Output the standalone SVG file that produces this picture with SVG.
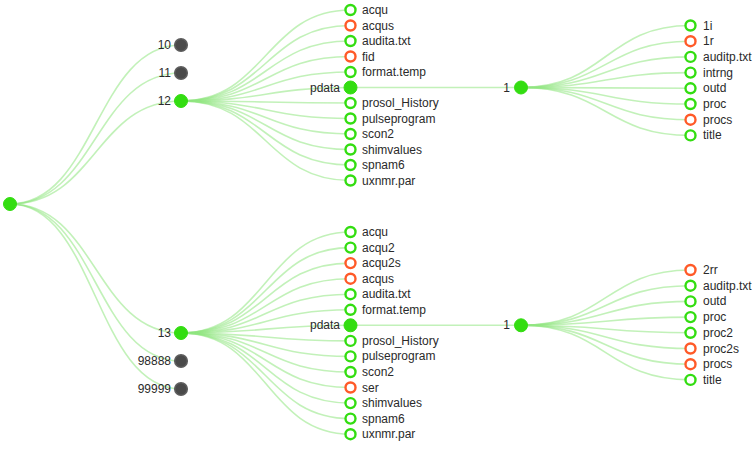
<svg xmlns="http://www.w3.org/2000/svg" width="756" height="464" viewBox="0 0 756 464">
<style>
.link{fill:none;stroke:#8fe57f;stroke-opacity:0.55;stroke-width:1.6}
.exp{fill:#33dd11;stroke:#33dd11;stroke-width:1}
.dark{fill:#4a4a4a;stroke:#5e5e5e;stroke-width:1.5}
.ok{fill:#fff;stroke:#33dd11;stroke-width:2.4}
.bad{fill:#fff;stroke:#ff5a28;stroke-width:2.4}
text{font-family:"Liberation Sans",Arial,sans-serif;font-size:12px;fill:#2a2a2a}
.l{text-anchor:end}
</style>
<rect width="756" height="464" fill="#fff"/>
<g id="links">
<path class="link" d="M10,204C95.5,204 95.5,45 181,45"/>
<path class="link" d="M10,204C95.5,204 95.5,73 181,73"/>
<path class="link" d="M10,204C95.5,204 95.5,101 181,101"/>
<path class="link" d="M10,204C95.5,204 95.5,333 181,333"/>
<path class="link" d="M10,204C95.5,204 95.5,361 181,361"/>
<path class="link" d="M10,204C95.5,204 95.5,389 181,389"/>
<path class="link" d="M181,101C265.75,101 265.75,10 350.5,10"/>
<path class="link" d="M181,101C265.75,101 265.75,25.5 350.5,25.5"/>
<path class="link" d="M181,101C265.75,101 265.75,41 350.5,41"/>
<path class="link" d="M181,101C265.75,101 265.75,56.5 350.5,56.5"/>
<path class="link" d="M181,101C265.75,101 265.75,72 350.5,72"/>
<path class="link" d="M181,101C265.75,101 265.75,87.5 350.5,87.5"/>
<path class="link" d="M181,101C265.75,101 265.75,103 350.5,103"/>
<path class="link" d="M181,101C265.75,101 265.75,118.5 350.5,118.5"/>
<path class="link" d="M181,101C265.75,101 265.75,134 350.5,134"/>
<path class="link" d="M181,101C265.75,101 265.75,149.5 350.5,149.5"/>
<path class="link" d="M181,101C265.75,101 265.75,165 350.5,165"/>
<path class="link" d="M181,101C265.75,101 265.75,180.5 350.5,180.5"/>
<path class="link" d="M350.5,87.5L521,87.5"/>
<path class="link" d="M521,87.5C605.75,87.5 605.75,25.5 690.5,25.5"/>
<path class="link" d="M521,87.5C605.75,87.5 605.75,41.2 690.5,41.2"/>
<path class="link" d="M521,87.5C605.75,87.5 605.75,56.9 690.5,56.9"/>
<path class="link" d="M521,87.5C605.75,87.5 605.75,72.6 690.5,72.6"/>
<path class="link" d="M521,87.5C605.75,87.5 605.75,88.3 690.5,88.3"/>
<path class="link" d="M521,87.5C605.75,87.5 605.75,104 690.5,104"/>
<path class="link" d="M521,87.5C605.75,87.5 605.75,119.7 690.5,119.7"/>
<path class="link" d="M521,87.5C605.75,87.5 605.75,135.4 690.5,135.4"/>
<path class="link" d="M181,333C265.75,333 265.75,232 350.5,232"/>
<path class="link" d="M181,333C265.75,333 265.75,247.6 350.5,247.6"/>
<path class="link" d="M181,333C265.75,333 265.75,263.1 350.5,263.1"/>
<path class="link" d="M181,333C265.75,333 265.75,278.7 350.5,278.7"/>
<path class="link" d="M181,333C265.75,333 265.75,294.2 350.5,294.2"/>
<path class="link" d="M181,333C265.75,333 265.75,309.8 350.5,309.8"/>
<path class="link" d="M181,333C265.75,333 265.75,325.3 350.5,325.3"/>
<path class="link" d="M181,333C265.75,333 265.75,340.9 350.5,340.9"/>
<path class="link" d="M181,333C265.75,333 265.75,356.4 350.5,356.4"/>
<path class="link" d="M181,333C265.75,333 265.75,372 350.5,372"/>
<path class="link" d="M181,333C265.75,333 265.75,387.5 350.5,387.5"/>
<path class="link" d="M181,333C265.75,333 265.75,403.1 350.5,403.1"/>
<path class="link" d="M181,333C265.75,333 265.75,418.6 350.5,418.6"/>
<path class="link" d="M181,333C265.75,333 265.75,434.2 350.5,434.2"/>
<path class="link" d="M350.5,325.3L521,325.3"/>
<path class="link" d="M521,325.3C605.75,325.3 605.75,270 690.5,270"/>
<path class="link" d="M521,325.3C605.75,325.3 605.75,285.7 690.5,285.7"/>
<path class="link" d="M521,325.3C605.75,325.3 605.75,301.4 690.5,301.4"/>
<path class="link" d="M521,325.3C605.75,325.3 605.75,317.1 690.5,317.1"/>
<path class="link" d="M521,325.3C605.75,325.3 605.75,332.8 690.5,332.8"/>
<path class="link" d="M521,325.3C605.75,325.3 605.75,348.5 690.5,348.5"/>
<path class="link" d="M521,325.3C605.75,325.3 605.75,364.2 690.5,364.2"/>
<path class="link" d="M521,325.3C605.75,325.3 605.75,379.9 690.5,379.9"/>
</g>
<g id="root"><circle class="exp" cx="10" cy="204" r="6.5"/></g>
<g id="n10"><circle class="dark" cx="181" cy="45" r="6.3"/><text class="l" x="171" y="49">10</text></g>
<g id="n11"><circle class="dark" cx="181" cy="73" r="6.3"/><text class="l" x="171" y="77">11</text></g>
<g id="n12"><circle class="exp" cx="181" cy="101" r="6.5"/><text class="l" x="171" y="105">12</text></g>
<g id="n13"><circle class="exp" cx="181" cy="333" r="6.5"/><text class="l" x="171" y="337">13</text></g>
<g id="n98888"><circle class="dark" cx="181" cy="361" r="6.3"/><text class="l" x="171" y="365">98888</text></g>
<g id="n99999"><circle class="dark" cx="181" cy="389" r="6.3"/><text class="l" x="171" y="393">99999</text></g>
<g id="a12-acqu"><circle class="ok" cx="350.5" cy="10" r="5"/><text x="362" y="14">acqu</text></g>
<g id="a12-acqus"><circle class="bad" cx="350.5" cy="25.5" r="5"/><text x="362" y="29.5">acqus</text></g>
<g id="a12-audita"><circle class="ok" cx="350.5" cy="41" r="5"/><text x="362" y="45">audita.txt</text></g>
<g id="a12-fid"><circle class="bad" cx="350.5" cy="56.5" r="5"/><text x="362" y="60.5">fid</text></g>
<g id="a12-format"><circle class="ok" cx="350.5" cy="72" r="5"/><text x="362" y="76">format.temp</text></g>
<g id="a12-pdata"><circle class="exp" cx="350.5" cy="87.5" r="6.5"/><text class="l" x="340" y="91.5">pdata</text></g>
<g id="a12-prosol"><circle class="ok" cx="350.5" cy="103" r="5"/><text x="362" y="107">prosol_History</text></g>
<g id="a12-pulse"><circle class="ok" cx="350.5" cy="118.5" r="5"/><text x="362" y="122.5">pulseprogram</text></g>
<g id="a12-scon2"><circle class="ok" cx="350.5" cy="134" r="5"/><text x="362" y="138">scon2</text></g>
<g id="a12-shim"><circle class="ok" cx="350.5" cy="149.5" r="5"/><text x="362" y="153.5">shimvalues</text></g>
<g id="a12-spnam6"><circle class="ok" cx="350.5" cy="165" r="5"/><text x="362" y="169">spnam6</text></g>
<g id="a12-uxnmr"><circle class="ok" cx="350.5" cy="180.5" r="5"/><text x="362" y="184.5">uxnmr.par</text></g>
<g id="p12-1"><circle class="exp" cx="521" cy="87.5" r="6.5"/><text class="l" x="510" y="91.5">1</text></g>
<g id="u-1i"><circle class="ok" cx="690.5" cy="25.5" r="5"/><text x="703" y="29.5">1i</text></g>
<g id="u-1r"><circle class="bad" cx="690.5" cy="41.2" r="5"/><text x="703" y="45.2">1r</text></g>
<g id="u-auditp"><circle class="ok" cx="690.5" cy="56.9" r="5"/><text x="703" y="60.9">auditp.txt</text></g>
<g id="u-intrng"><circle class="ok" cx="690.5" cy="72.6" r="5"/><text x="703" y="76.6">intrng</text></g>
<g id="u-outd"><circle class="ok" cx="690.5" cy="88.3" r="5"/><text x="703" y="92.3">outd</text></g>
<g id="u-proc"><circle class="ok" cx="690.5" cy="104" r="5"/><text x="703" y="108">proc</text></g>
<g id="u-procs"><circle class="bad" cx="690.5" cy="119.7" r="5"/><text x="703" y="123.7">procs</text></g>
<g id="u-title"><circle class="ok" cx="690.5" cy="135.4" r="5"/><text x="703" y="139.4">title</text></g>
<g id="a13-acqu"><circle class="ok" cx="350.5" cy="232" r="5"/><text x="362" y="236">acqu</text></g>
<g id="a13-acqu2"><circle class="ok" cx="350.5" cy="247.6" r="5"/><text x="362" y="251.6">acqu2</text></g>
<g id="a13-acqu2s"><circle class="bad" cx="350.5" cy="263.1" r="5"/><text x="362" y="267.1">acqu2s</text></g>
<g id="a13-acqus"><circle class="bad" cx="350.5" cy="278.7" r="5"/><text x="362" y="282.7">acqus</text></g>
<g id="a13-audita"><circle class="ok" cx="350.5" cy="294.2" r="5"/><text x="362" y="298.2">audita.txt</text></g>
<g id="a13-format"><circle class="ok" cx="350.5" cy="309.8" r="5"/><text x="362" y="313.8">format.temp</text></g>
<g id="a13-pdata"><circle class="exp" cx="350.5" cy="325.3" r="6.5"/><text class="l" x="340" y="329.3">pdata</text></g>
<g id="a13-prosol"><circle class="ok" cx="350.5" cy="340.9" r="5"/><text x="362" y="344.9">prosol_History</text></g>
<g id="a13-pulse"><circle class="ok" cx="350.5" cy="356.4" r="5"/><text x="362" y="360.4">pulseprogram</text></g>
<g id="a13-scon2"><circle class="ok" cx="350.5" cy="372" r="5"/><text x="362" y="376">scon2</text></g>
<g id="a13-ser"><circle class="bad" cx="350.5" cy="387.5" r="5"/><text x="362" y="391.5">ser</text></g>
<g id="a13-shim"><circle class="ok" cx="350.5" cy="403.1" r="5"/><text x="362" y="407.1">shimvalues</text></g>
<g id="a13-spnam6"><circle class="ok" cx="350.5" cy="418.6" r="5"/><text x="362" y="422.6">spnam6</text></g>
<g id="a13-uxnmr"><circle class="ok" cx="350.5" cy="434.2" r="5"/><text x="362" y="438.2">uxnmr.par</text></g>
<g id="p13-1"><circle class="exp" cx="521" cy="325.3" r="6.5"/><text class="l" x="510" y="329.3">1</text></g>
<g id="d-2rr"><circle class="bad" cx="690.5" cy="270" r="5"/><text x="703" y="274">2rr</text></g>
<g id="d-auditp"><circle class="ok" cx="690.5" cy="285.7" r="5"/><text x="703" y="289.7">auditp.txt</text></g>
<g id="d-outd"><circle class="ok" cx="690.5" cy="301.4" r="5"/><text x="703" y="305.4">outd</text></g>
<g id="d-proc"><circle class="ok" cx="690.5" cy="317.1" r="5"/><text x="703" y="321.1">proc</text></g>
<g id="d-proc2"><circle class="ok" cx="690.5" cy="332.8" r="5"/><text x="703" y="336.8">proc2</text></g>
<g id="d-proc2s"><circle class="bad" cx="690.5" cy="348.5" r="5"/><text x="703" y="352.5">proc2s</text></g>
<g id="d-procs"><circle class="bad" cx="690.5" cy="364.2" r="5"/><text x="703" y="368.2">procs</text></g>
<g id="d-title"><circle class="ok" cx="690.5" cy="379.9" r="5"/><text x="703" y="383.9">title</text></g>
</svg>
